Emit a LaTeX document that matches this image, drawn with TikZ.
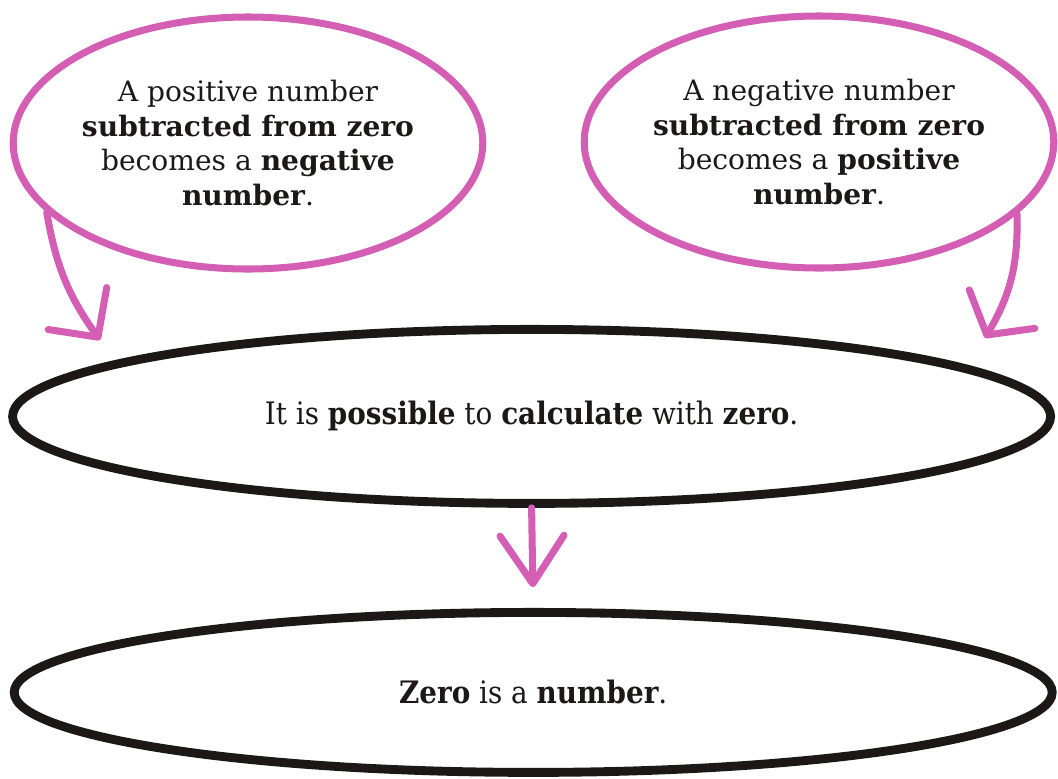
\documentclass[tikz,border=0pt]{standalone}
\usepackage{fontspec}
\setmainfont{DejaVu Serif}
\newfontfamily\condfont{DejaVu Serif}[FakeStretch=0.9]
\usetikzlibrary{shapes.geometric,arrows.meta,positioning}
\definecolor{ZeroPink}{RGB}{212,94,180}
\definecolor{InkBlack}{RGB}{28,24,24}
\tikzset{
  pinkoval/.style={ellipse,draw=ZeroPink,line width=5pt,
                   minimum width=11.55cm,minimum height=6.3cm,inner sep=0pt,
                   align=center,text=InkBlack,
                   font=\fontsize{20}{24.8}\selectfont},
  blackoval/.style={ellipse,draw=InkBlack,line width=6.3pt,
                    minimum width=25.95cm,inner sep=0pt,text=InkBlack,
                    font=\condfont\fontsize{22}{26}\selectfont},
  arr/.style={ZeroPink,line width=5pt,line cap=round},
  barb/.style 2 args={-{Straight Barb[length=#1,width=#2,line cap=round,line join=round]}},
}
\begin{document}
\begin{tikzpicture}
\useasboundingbox (0,0) rectangle (26.45,-19.45);
\node[pinkoval] (negtozero) at (6.2,-3.575) {A positive number\\
  \textbf{subtracted from zero}\\ becomes a \textbf{negative}\\ \textbf{number}.};
\node[pinkoval, minimum width=11.45cm] (postozero) at (20.475,-3.55) {A negative number\\
  \textbf{subtracted from zero}\\ becomes a \textbf{positive}\\ \textbf{number}.};
\node[blackoval, minimum height=4.35cm] (calc) at (13.29,-10.41)
  {It is \textbf{possible} to \textbf{calculate} with \textbf{zero}.};
\node[blackoval, minimum height=4cm] (isnum) at (13.33,-17.31)
  {\textbf{Zero} is a \textbf{number}.};
\coordinate (tipL) at (2.5,-8.5);
\coordinate (tipR) at (24.625,-8.45);

\draw[arr, barb={0.88cm}{1.8cm}] (negtozero.199) to[bend right=13] (tipL);
\draw[arr, barb={0.75cm}{1.9cm}] (postozero.340) to[bend left=16] (tipR);
\draw[arr, barb={1.2cm}{1.6cm}, shorten >=0.52cm] (calc.south) -- (isnum.north);
\end{tikzpicture}
\end{document}
